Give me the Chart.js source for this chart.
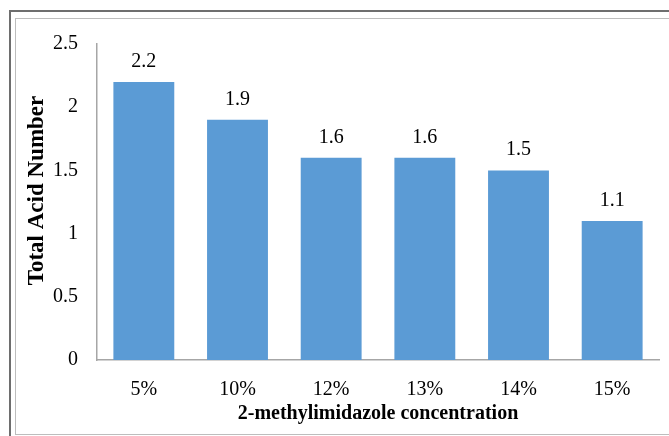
<!DOCTYPE html>
<html>
<head>
<meta charset="utf-8">
<script src="https://cdn.jsdelivr.net/npm/chart.js@4/dist/chart.umd.min.js"></script>
<style>
  html, body { margin: 0; padding: 0; background: #fff; overflow: hidden; }
  #wrap { width: 669px; height: 436px; position: relative; }
  canvas { display: block; }
</style>
</head>
<body>
<div id="wrap"><canvas id="acid-chart" width="669" height="436"></canvas></div>
<script>
// values
const concentrations = ['5%', '10%', '12%', '13%', '14%', '15%']
const acidNumbers = [2.2, 1.9, 1.6, 1.6, 1.5, 1.1]
const yTicks = [0, 0.5, 1, 1.5, 2, 2.5]

const serif = '"Liberation Serif", "Times New Roman", serif'

// the two frame lines round the picture
const framePlugin = {
  id: 'frame',
  beforeDraw(chart) {
    const ctx = chart.ctx
    ctx.save()
    ctx.fillStyle = '#fff'
    ctx.fillRect(0, 0, chart.width, chart.height)
    ctx.strokeStyle = '#6e6e6e'
    ctx.lineWidth = 2
    ctx.strokeRect(10, 11, 700, 460)
    ctx.strokeStyle = '#bdbdbd'
    ctx.lineWidth = 1
    ctx.strokeRect(15.5, 18.5, 700, 416)
    ctx.restore()
  }
}

// value labels over the bars
const valueLabels = {
  id: 'valueLabels',
  afterDatasetsDraw(chart) {
    const ctx = chart.ctx
    const meta = chart.getDatasetMeta(0)
    ctx.save()
    ctx.font = '20px ' + serif
    ctx.fillStyle = '#000'
    ctx.textAlign = 'center'
    ctx.textBaseline = 'alphabetic'
    meta.data.forEach((bar, i) => {
      ctx.fillText(acidNumbers[i].toFixed(1), bar.x, bar.y - 15)
    })
    ctx.restore()
  }
}

const ctx = document.getElementById('acid-chart').getContext('2d')

const acidChart = new Chart(ctx, {
  type: 'bar',
  data: {
    labels: concentrations,
    datasets: [
      {
        data: acidNumbers,
        backgroundColor: '#5b9bd5',
        borderWidth: 0,
        barPercentage: 0.65,
        categoryPercentage: 1
      }
    ]
  },
  options: {
    responsive: false,
    animation: false,
    layout: { padding: { top: 44, right: 10, left: 0, bottom: 0 } },
    plugins: {
      legend: { display: false },
      tooltip: { enabled: false }
    },
    scales: {
      x: {
        grid: { display: false, drawTicks: false },
        border: { display: true, color: '#a6a6a6', width: 1.5 },
        ticks: { color: '#000', font: { family: serif, size: 20 }, padding: 18 },
        title: {
          display: true,
          text: '2-methylimidazole concentration',
          color: '#000',
          font: { family: serif, size: 20, weight: 'bold' },
          padding: { top: 4, bottom: 10 }
        },
        afterFit(scale) { scale.height = 76 }
      },
      y: {
        min: 0,
        max: 2.5,
        afterBuildTicks(scale) {
          scale.ticks = yTicks.map(v => ({ value: v }))
        },
        grid: { display: false, drawTicks: false },
        border: { display: true, color: '#a6a6a6', width: 1.5 },
        ticks: {
          color: '#000',
          font: { family: serif, size: 20 },
          padding: 19,
          callback: v => String(v)
        },
        title: {
          display: true,
          // leading spaces lift the title a little above the axis centre, as in the original
          text: '\u00a0\u00a0\u00a0\u00a0Total Acid Number',
          color: '#000',
          font: { family: serif, size: 23, weight: 'bold' },
          padding: { top: 23, bottom: 4 }
        },
        afterFit(scale) { scale.width = 97 }
      }
    }
  },
  plugins: [framePlugin, valueLabels]
})
</script>
</body>
</html>
